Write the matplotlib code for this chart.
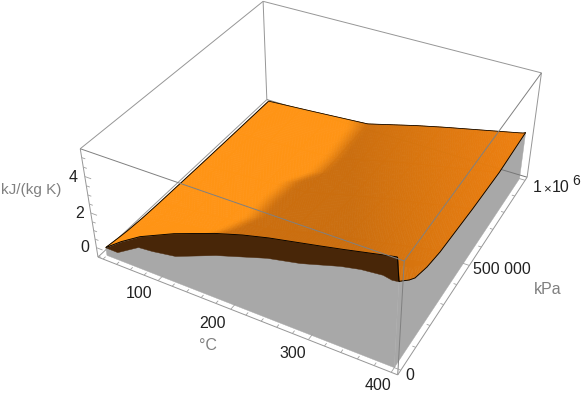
# 3D surface with filled sides, kJ/(kg K) over temperature and pressure
import numpy as np
import matplotlib
matplotlib.use("Agg")
import matplotlib.pyplot as plt
from mpl_toolkits.mplot3d.art3d import Poly3DCollection

plt.rcParams['font.family'] = ['Liberation Sans', 'DejaVu Sans']

W, H = 583, 400

# plot box limits
T_lim = (12.4, 407.6)
p_lim = (-2e4, 1.02e6)
z_lim = (-0.56, 5.46)

# surface, one row per pressure
T_grid = [20, 44, 75, 123, 179, 214, 247, 287, 334, 375, 397, 400]
p_grid = [0, 7e4, 1.1e5, 1.93e5, 2.86e5, 5.38e5, 7.6e5, 1e6]
z_row_0 = [-0.09, 0.61, 1.38, 2.27, 3.13, 3.58, 3.93, 4.27, 4.68, 5.07, 5.27, 4.10]
z_row_1 = [-0.21, 0.25, 0.76, 1.37, 1.99, 2.39, 2.74, 3.10, 3.51, 3.89, 4.10, 3.37]
z_row_2 = [-0.27, 0.08, 0.47, 0.94, 1.45, 1.83, 2.18, 2.55, 2.96, 3.34, 3.54, 3.02]
z_row_3 = [-0.34, -0.13, 0.11, 0.41, 0.75, 1.12, 1.48, 1.86, 2.28, 2.65, 2.85, 2.66]
z_row_4 = [-0.37, -0.24, -0.08, 0.14, 0.39, 0.76, 1.12, 1.50, 1.92, 2.29, 2.49, 2.44]
z_row_5 = [-0.40, -0.34, -0.25, -0.11, 0.05, 0.42, 0.78, 1.17, 1.59, 1.96, 2.16, 2.20]
z_row_6 = [-0.41, -0.36, -0.28, -0.16, 0.00, 0.36, 0.72, 1.10, 1.50, 1.85, 2.04, 2.07]
z_row_7 = [-0.41, -0.35, -0.27, -0.14, 0.02, 0.39, 0.75, 1.14, 1.56, 1.93, 2.13, 2.20]

# lower edge of the dark strip along the 0 kPa side
T_under = [20, 37, 70, 90, 123, 179, 246, 287, 334, 357, 382, 392, 400]
z_under = [-0.09, -0.10, 0.71, 0.79, 1.02, 1.95, 2.85, 3.22, 3.82, 4.03, 4.14, 4.05, 4.10]

# where the shadow starts on the surface, in picture pixels
shadow_x = [357, 347, 333, 317, 290, 270, 253, 227, 195]
shadow_y = [127, 140, 158, 173, 183, 200, 218, 230, 240]

T_ticks = [100, 200, 300, 400]
T_minor = np.arange(20, 401, 20)
p_ticks = [0, 5e5, 1e6]
p_minor = np.arange(0, 1e6 + 1, 1e5)
z_ticks = [0, 2, 4]
z_minor = np.arange(-0.5, 5.01, 0.5)

# the box corners as they sit in the picture: (T side, p side, z side, x, y)
corners = [(0, 0, 0, 97.7, 256.7), (1, 0, 0, 398, 375), (1, 1, 0, 527, 177), (0, 1, 0, 267, 100),
           (0, 0, 1, 80.5, 149), (1, 0, 1, 404, 261), (1, 1, 1, 541.5, 73), (0, 1, 1, 263, 1)]


def camera():
    # 3x4 camera from the corners, from data coordinates to picture pixels
    rows = []
    for i, j, k, u, v in corners:
        X = [i, j, k, 1]
        rows.append(X + [0, 0, 0, 0] + [-u * a for a in X])
        rows.append([0, 0, 0, 0] + X + [-v * a for a in X])
    P = np.linalg.svd(np.array(rows, float))[2][-1].reshape(3, 4)
    if (P[2] @ np.array([0.5, 0.5, 0.5, 1])) < 0:
        P = -P
    S = np.eye(4)
    for a, lim in enumerate([T_lim, p_lim, z_lim]):
        S[a, a] = 1 / (lim[1] - lim[0])
        S[a, 3] = -lim[0] / (lim[1] - lim[0])
    return P @ S


P = camera()

fig = plt.figure(figsize=(W / 100, H / 100), dpi=100)
ax = fig.add_axes([0, 0, 1, 1], projection='3d', computed_zorder=False)
ax.apply_aspect = lambda position=None: None
ax.set_axis_off()

# view matrix for the axes, built on the axes' own 2D window
x0, x1 = ax.viewLim.intervalx
y0, y1 = ax.viewLim.intervaly
w_row = P[2]
w_mid = w_row @ np.array([200, 5e5, 2.5, 1])
M = np.vstack([
    x0 * w_row + (x1 - x0) / W * P[0],
    y1 * w_row - (y1 - y0) / H * P[1],
    -0.5 * w_mid * np.array([0, 0, 0, 1]),
    w_row])
ax.get_proj = lambda: M


def line(T, p, z, color='#969696', lw=0.7, zorder=7):
    ax.plot(T, p, z, color=color, lw=lw, zorder=zorder, solid_capstyle='butt')


# surface mesh, refined only so the colour runs smoothly across it
z_rows = np.array([z_row_0, z_row_1, z_row_2, z_row_3, z_row_4, z_row_5, z_row_6, z_row_7])
T_fine = np.union1d(np.linspace(20, 400, 150), T_grid)
p_fine = np.union1d(np.linspace(0, 1e6, 100), p_grid)
z_t = np.array([np.interp(T_fine, T_grid, r) for r in z_rows])
z_fine = np.array([np.interp(p_fine, p_grid, c) for c in z_t.T]).T
TT, PP = np.meshgrid(T_fine, p_fine)

# colour by position in the picture
h = P[0, 0] * TT + P[0, 1] * PP + P[0, 2] * z_fine + P[0, 3]
g = P[1, 0] * TT + P[1, 1] * PP + P[1, 2] * z_fine + P[1, 3]
w = P[2, 0] * TT + P[2, 1] * PP + P[2, 2] * z_fine + P[2, 3]
u, v = h / w, g / w
edge = np.interp(v, shadow_y, shadow_x)
s = np.clip((u - edge) / 26 + 0.5, 0, 1)
s = s * s * (3 - 2 * s)
r = np.clip((u - 350) / 170, 0, 1)
bright = np.array([255, 148, 20]) / 255
dark = np.array([203, 110, 14]) / 255
far = np.array([238, 128, 15]) / 255
shade = dark[None, None, :] + (far - dark)[None, None, :] * r[:, :, None]
colors = bright[None, None, :] * (1 - s[:, :, None]) + shade * s[:, :, None]
colors = np.dstack([colors, np.ones(u.shape)])

# box edges behind everything
line([T_lim[0], T_lim[1]], [p_lim[1], p_lim[1]], [z_lim[1], z_lim[1]], zorder=1)
line([T_lim[0], T_lim[0]], [p_lim[0], p_lim[1]], [z_lim[1], z_lim[1]], zorder=1)
line([T_lim[0], T_lim[0]], [p_lim[1], p_lim[1]], [z_lim[0], z_lim[1]], zorder=1)
line([T_lim[1], T_lim[1]], [p_lim[1], p_lim[1]], [z_lim[0], z_lim[1]], zorder=1)
line([T_lim[0], T_lim[0]], [p_lim[0], p_lim[1]], [z_lim[0], z_lim[0]], zorder=1)
line([T_lim[0], T_lim[0]], [p_lim[0], p_lim[0]], [z_lim[0], z_lim[1]], zorder=1)

# grey filling down to the floor
grey = '#a8a8a8'
front = [(t, 0, z) for t, z in zip(T_under, z_under)] + [(400, 0, z_lim[0]), (20, 0, z_lim[0])]
side = [(400, a, b) for a, b in zip(p_fine, z_fine[:, -1])] + [(400, 1e6, z_lim[0]), (400, 0, z_lim[0])]
ax.add_collection3d(Poly3DCollection([side, front], facecolors=grey, edgecolors=grey, linewidths=0.3, zorder=2))

line([T_lim[0], T_lim[1]], [p_lim[1], p_lim[1]], [z_lim[0], z_lim[0]], color='#777777', zorder=3)

ax.plot_surface(TT, PP, z_fine, facecolors=colors, rstride=1, cstride=1, shade=False,
                linewidth=0.4, antialiased=True, zorder=4)

# dark strip
top_T = T_fine[T_fine <= 397]
top_z = z_fine[0][T_fine <= 397]
strip = [(t, 0, z) for t, z in zip(top_T, top_z)] + [(t, 0, z) for t, z in zip(T_under[::-1], z_under[::-1])]
ax.add_collection3d(Poly3DCollection([strip], facecolors='#482608', edgecolors='#482608', linewidths=0.3, zorder=5))

# outlines of the surface
line(top_T, np.zeros(len(top_T)), top_z, color='black', lw=0.65, zorder=6)
line([397, 400], [0, 0], [z_fine[0][T_fine == 397][0], z_fine[0][-1]], color='black', lw=0.65, zorder=6)
line(np.full(len(p_fine), 400), p_fine, z_fine[:, -1], color='black', lw=0.65, zorder=6)
line(T_fine, np.full(len(T_fine), 1e6), z_fine[-1], color='black', lw=0.55, zorder=6)
line(np.full(len(p_fine), 20), p_fine, z_fine[:, 0], color='black', lw=0.65, zorder=6)

# box edges in front
line([T_lim[1], T_lim[1]], [p_lim[0], p_lim[0]], [z_lim[0], z_lim[1]], color='#808080')
line([T_lim[0], T_lim[1]], [p_lim[0], p_lim[0]], [z_lim[1], z_lim[1]], color='#808080')
line([T_lim[1], T_lim[1]], [p_lim[0], p_lim[1]], [z_lim[1], z_lim[1]], color='#808080')
line([T_lim[0], T_lim[1]], [p_lim[0], p_lim[0]], [z_lim[0], z_lim[0]])
line([T_lim[1], T_lim[1]], [p_lim[0], p_lim[1]], [z_lim[0], z_lim[0]])

# ticks
for t in T_minor:
    d = 2.6e4 if t in T_ticks else 1.3e4
    line([t, t], [p_lim[0], p_lim[0] + d], [z_lim[0], z_lim[0]], color='#a0a0a0', lw=0.6)
for a in p_minor:
    d = 8 if a in p_ticks else 4
    line([T_lim[1], T_lim[1] - d], [a, a], [z_lim[0], z_lim[0]], color='#a0a0a0', lw=0.6)
for a in z_minor:
    d = 9 if a in z_ticks else 5
    line([T_lim[0], T_lim[0] + d], [p_lim[0], p_lim[0]], [a, a], color='#a0a0a0', lw=0.6)


def label(x, y, s, size=11.5, color='#222222'):
    fig.text(x / W, 1 - y / H, s, ha='center', va='center', fontsize=size, color=color)


label(139, 294, '100')
label(213, 323, '200')
label(293, 353, '300')
label(378, 386, '400')
label(85, 247, '0')
label(80, 213, '2')
label(73, 177, '4')
label(410, 375, '0')
label(502, 269, '500 000')
label(537, 188, '1')
label(547, 189, '×', size=9.5)
label(561, 188, '10')
label(576, 181, '6', size=10)
label(208, 346, '°C', color='#808080')
label(548, 290, 'kPa', color='#808080')
label(31, 190, 'kJ/(kg K)', size=11, color='#808080')

fig.savefig('out.png', dpi=100)
